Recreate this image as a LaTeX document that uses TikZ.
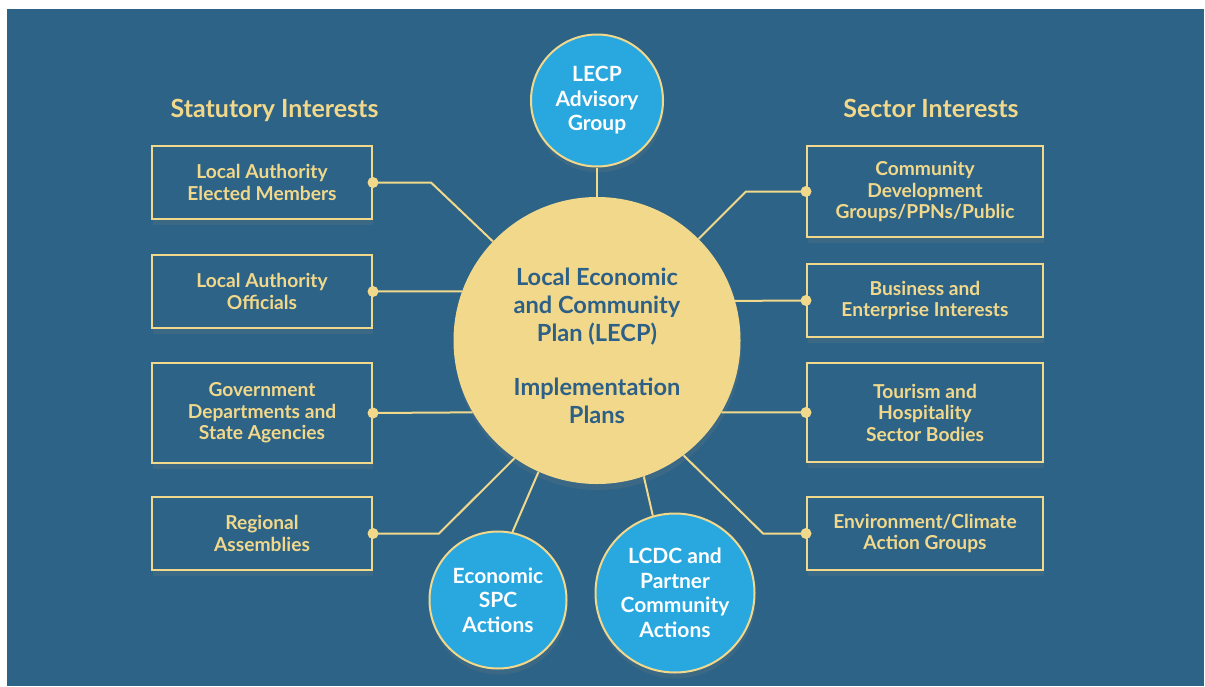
\documentclass[tikz,border=0pt]{standalone}
\usepackage{fontspec}
\setmainfont{Lato}
\usetikzlibrary{positioning,shadows}
\definecolor{bgblue}{RGB}{45,99,135}
\definecolor{gold}{RGB}{242,216,138}
\definecolor{sky}{RGB}{41,168,224}
\definecolor{hubink}{RGB}{45,96,135}

\begin{document}
\begin{tikzpicture}[x=1pt, y=-1pt,
    every node/.style={align=center, inner sep=0pt},
    softshadow/.style={drop shadow={shadow xshift=1pt, shadow yshift=-6pt, opacity=0.18}},
    interest/.style={draw=gold, line width=2pt, fill=bgblue, text=gold, softshadow,
      minimum width=220pt, minimum height=73pt, font=\bfseries\fontsize{19.2}{21.5}\selectfont},
    heading/.style={text=gold, anchor=base, font=\bfseries\fontsize{25}{29}\selectfont},
    bubble/.style={circle, draw=gold, line width=2pt, fill=sky, text=white, softshadow,
      font=\bfseries\fontsize{21}{24.5}\selectfont},
    link/.style={draw=gold, line width=2pt},
    dot/.style={fill=gold}]
  % page and panel
  \fill[white] (0,0) rectangle (1205,686);
  \useasboundingbox (0,0) rectangle (1205,686);
  \fill[bgblue] (7,9) rectangle (1204,686);

  % headings
  \node[heading] (stat) at (274.5,117) {Statutory Interests};
  \node[heading] (sect) at (931,117) {Sector Interests};

  % statutory side
  \node[interest] (L1) at (262,182.5) {Local Authority\\Elected Members};
  \node[interest] (L2) at (262,291.5) {Local Authority\\Officials};
  \node[interest, minimum height=100pt] (L3) at (262,413) {Government\\Departments and\\State Agencies};
  \node[interest] (L4) at (262,533.5) {Regional\\Assemblies};

  % sector side
  \node[interest, minimum width=236pt, minimum height=91pt] (R1) at (925,191.5) {Community\\Development\\Groups/PPNs/Public};
  \node[interest, minimum width=236pt] (R2) at (925,300.5) {Business and\\Enterprise Interests};
  \node[interest, minimum width=236pt, minimum height=99pt] (R3) at (925,412.5) {Tourism and\\Hospitality\\Sector Bodies};
  \node[interest, minimum width=236pt] (R4) at (925,533.5) {Environment/Climate\\Action Groups};

  % the plan in the middle
  \node[circle, fill=gold, minimum size=287pt, softshadow] (hub) at (597,340.5) {};
  \node[text=hubink, font=\bfseries\fontsize{23.6}{28}\selectfont] (plan) at (597,346)
    {Local Economic\\and Community\\Plan (LECP)\\[26pt]Implementation\\Plans};

  % round groups
  \node[bubble, minimum size=132pt] (adv) at (597,100.5) {LECP\\Advisory\\Group};
  \node[bubble, minimum size=137pt] (spc) at (498,600) {Economic\\SPC\\Actions};
  \node[bubble, minimum size=159pt] (lcdc) at (675,593) {LCDC and\\Partner\\Community\\Actions};

  % connectors
  \draw[link] (L1.east) -- ++(58,0) -- (hub);
  \draw[link] (L2.east) -- (hub.160);
  \draw[link] (L3.east) -- (hub.210);
  \draw[link] (L4.east) -- ++(66,0) -- (hub.235);
  \draw[link] (R1.west) -- ++(-60,0) -- (hub);
  \draw[link] (R2.west) -- (hub.16);
  \draw[link] (R3.west) -- (hub.330);
  \draw[link] (R4.west) -- ++(-43,0) -- (hub.307);
  \draw[link] (adv) -- (hub);
  \draw[link] (spc.78) -- (hub.246);
  \draw[link] (lcdc.106) -- (hub.289);
  \foreach \n in {L1,L2,L3,L4}
    \fill[dot] (\n.east) circle (5.5pt);
  \foreach \n in {R1,R2,R3,R4}
    \fill[dot] (\n.west) circle (5.5pt);
\end{tikzpicture}
\end{document}
